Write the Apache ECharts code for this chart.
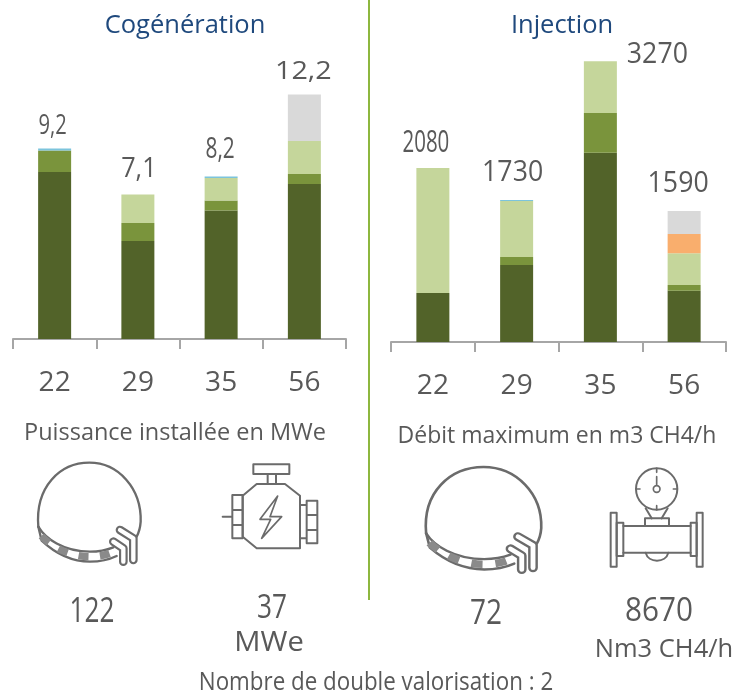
<!DOCTYPE html>
<html>
<head>
<meta charset="utf-8">
<script src="https://cdn.jsdelivr.net/npm/echarts@6/dist/echarts.min.js"></script>
<style>
html, body { margin: 0; padding: 0; background: #fff; }
#chart { width: 749px; height: 694px; }
</style>
</head>
<body>
<div id="chart"></div>
<script>
var categories = ['22', '29', '35', '56'];

// cogeneration, MWe
var cogenDark = [8.35, 4.9, 6.42, 7.75];
var cogenMid = [1.08, 0.9, 0.5, 0.5];
var cogenLight = [0, 1.42, 1.13, 1.65];
var cogenBlue = [0.1, 0, 0.08, 0];
var cogenGrey = [0, 0, 0, 2.33];
var cogenLabels = ['9,2', '7,1', '8,2', '12,2'];

// injection, m3 CH4/h
var injDark = [572, 898, 2209, 599];
var injMid = [0, 93, 463, 66];
var injLight = [1459, 653, 603, 370];
var injBlue = [0, 12, 0, 0];
var injOrange = [0, 0, 0, 225];
var injGrey = [0, 0, 0, 268];
var injLabels = ['2080', '1730', '3270', '1590'];

var TEXT = '#595959';
var FONT = '"Open Sans"';

function barSeries(axis, color, data) {
    return {
        type: 'bar',
        stack: 's' + axis,
        xAxisIndex: axis,
        yAxisIndex: axis,
        barWidth: 33,
        itemStyle: { color: color },
        silent: true,
        data: data
    };
}

// total labels sit on the top of each stack, the original ones are squeezed differently
// each style is [dx, dy, font size, scaleX]
function labelSeries(axis, labels, stacks, styles) {
    return {
        type: 'custom',
        xAxisIndex: axis,
        yAxisIndex: axis,
        silent: true,
        data: labels.map(function(label, i) {
            var total = 0;
            stacks.forEach(function(values) { total += values[i]; });
            return [i, total];
        }),
        renderItem: function(params, api) {
            var pos = api.coord([api.value(0), api.value(1)]);
            var st = styles[params.dataIndex];
            return text(labels[params.dataIndex], pos[0] + st[0], pos[1] + st[1], st[2], TEXT, st[3]);
        }
    };
}

function xAxis(index) {
    return {
        type: 'category',
        gridIndex: index,
        data: categories,
        axisLine: { lineStyle: { color: '#A6A6A6', width: 2 } },
        axisTick: { show: true, length: 10, lineStyle: { color: '#A6A6A6', width: 2 } },
        axisLabel: { color: TEXT, fontFamily: FONT, fontSize: 28, margin: 30 }
    };
}

function text(str, x, y, size, color, scaleX) {
    return {
        type: 'text',
        x: x,
        y: y,
        scaleX: scaleX || 1,
        style: {
            text: str,
            fill: color || TEXT,
            font: size + 'px ' + FONT,
            textAlign: 'center',
            textVerticalAlign: 'middle'
        }
    };
}

// the graphic component has no path type, so each icon path is registered as a shape
var shapeCount = 0;
function stroke(pathData, width, color, dash) {
    var name = 'iconPath' + (shapeCount++);
    echarts.graphic.registerShape(name, echarts.graphic.extendPath(pathData, {}));
    return {
        type: name,
        style: {
            fill: null,
            stroke: color || '#6b6b6b',
            lineWidth: width || 6,
            lineJoin: 'round',
            lineCap: dash ? 'butt' : 'round',
            lineDash: dash || null
        }
    };
}

// icons are drawn in the 3x coordinates of the crop
function domeIcon(x, y, sx, sy) {
    return {
        type: 'group',
        x: x,
        y: y,
        scaleX: sx,
        scaleY: sy,
        children: [
            stroke('M115 350C105 230 180 158 268 158C355 158 425 235 422 335C421 350 418 365 410 380', 7),
            stroke('M115 350C135 385 190 425 270 425C295 425 315 422 340 412', 7),
            stroke('M115 350L125 392C160 425 210 455 270 455C300 455 325 450 350 438', 7),
            stroke('M124 378C160 415 215 440 270 440C295 440 315 436 335 428', 22, '#8a8a8a', [30, 34]),
            stroke('M360 360L400 385L400 450', 26),
            stroke('M360 360L400 385L400 450', 13, '#fff'),
            stroke('M340 395L370 415L370 455', 26),
            stroke('M340 395L370 415L370 455', 13, '#fff')
        ]
    };
}

function engineIcon(x, y) {
    return {
        type: 'group',
        x: x,
        y: y,
        scaleX: 1 / 3,
        scaleY: 1 / 3,
        children: [
            stroke('M760 163H868V192H760Z'),
            stroke('M803 192V222M828 192V222'),
            stroke('M770 222H855L900 257V415H770L728 380V257Z'),
            stroke('M697 255H728V385H697ZM697 300H728M697 345H728M668 320H697'),
            stroke('M920 272H952V400H920ZM920 315H952M920 360H952M900 285H920M900 385H920'),
            stroke('M833 258L780 328H812L785 385L845 320H810Z', 5)
        ]
    };
}

function meterIcon(x, y) {
    return {
        type: 'group',
        x: x,
        y: y,
        scaleX: 1 / 3,
        scaleY: 1 / 3,
        children: [
            stroke('M783 237A62 62 0 1 1 907 237A62 62 0 1 1 783 237Z'),
            stroke('M835 237A10 10 0 1 1 855 237A10 10 0 1 1 835 237ZM845 200V226M845 175V187M845 287V299M783 237H795M895 237H907', 5),
            stroke('M812 295L830 325M878 295L860 325'),
            stroke('M810 325H882V348H810Z'),
            stroke('M745 348H947M745 428H947'),
            stroke('M725 338H745V438H725ZM947 338H965V438H947Z'),
            stroke('M707 308H725V470H707ZM965 308H983V470H965Z'),
            stroke('M812 428C820 460 872 460 880 428')
        ]
    };
}

var chart = echarts.init(document.getElementById('chart'));

var option = {
    animation: false,
    grid: [
        { left: 13, width: 333, top: 39, height: 300 },
        { left: 391, width: 335, top: 42, height: 300 }
    ],
    xAxis: [xAxis(0), xAxis(1)],
    yAxis: [
        { type: 'value', gridIndex: 0, min: 0, max: 15, show: false },
        { type: 'value', gridIndex: 1, min: 0, max: 3500, show: false }
    ],
    series: [
        barSeries(0, '#526329', cogenDark),
        barSeries(0, '#7A943C', cogenMid),
        barSeries(0, '#C5D69B', cogenLight),
        barSeries(0, '#7CC4DC', cogenBlue),
        barSeries(0, '#D9D9D9', cogenGrey),
        labelSeries(0, cogenLabels, [cogenDark, cogenMid, cogenLight, cogenBlue, cogenGrey], [
            [-2, -22, 28, 0.72],
            [1, -26, 28, 0.9],
            [-1, -27, 29, 0.72],
            [-1, -23, 25, 1.15]
        ]),
        barSeries(1, '#526329', injDark),
        barSeries(1, '#7A943C', injMid),
        barSeries(1, '#C5D69B', injLight),
        barSeries(1, '#7CC4DC', injBlue),
        barSeries(1, '#F9AE6D', injOrange),
        barSeries(1, '#D9D9D9', injGrey),
        labelSeries(1, injLabels, [injDark, injMid, injLight, injBlue, injOrange, injGrey], [
            [-7, -25, 31, 0.66],
            [-4, -27, 29, 0.92],
            [57, -7, 29, 0.92],
            [-6, -27, 29, 0.92]
        ])
    ],
    graphic: [
        { type: 'line', shape: { x1: 369, y1: 0, x2: 369, y2: 600 }, style: { stroke: '#8DB73F', lineWidth: 2 } },
        text('Cogénération', 185, 26, 25.5, '#1F497D'),
        text('Injection', 562, 26, 25.5, '#1F497D'),
        text('Puissance installée en MWe', 175, 433, 23.5),
        text('Débit maximum en m3 CH4/h', 557, 436, 23),
        domeIcon(0, 410, 1 / 3, 1 / 3),
        engineIcon(0, 410),
        domeIcon(383, 412.5, 0.375, 0.345),
        meterIcon(375, 410),
        text('122', 92, 612, 34, TEXT, 0.77),
        text('37', 272, 609, 32, TEXT, 0.82),
        text('MWe', 269, 643, 27, TEXT, 1.08),
        text('72', 486, 614, 35, TEXT, 0.8),
        text('8670', 659, 612, 33, TEXT, 0.9),
        text('Nm3 CH4/h', 664, 650, 25.5),
        text('Nombre de double valorisation : 2', 376, 683, 26, TEXT, 0.86)
    ]
};

chart.setOption(option);
</script>
</body>
</html>
